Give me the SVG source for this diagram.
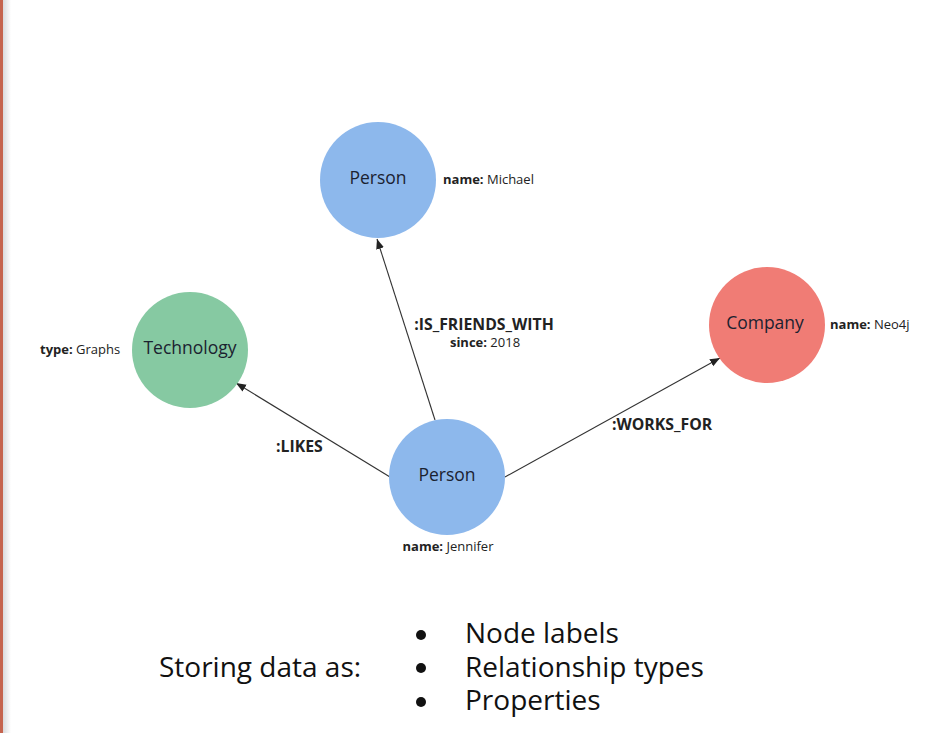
<svg xmlns="http://www.w3.org/2000/svg" width="928" height="733" viewBox="0 0 928 733">
<defs>
<marker id="arr" viewBox="0 0 10 10" refX="10" refY="5" markerWidth="10" markerHeight="10" markerUnits="userSpaceOnUse" orient="auto">
<path d="M0,1 L10,5 L0,9 z" fill="#222"/>
</marker>
<linearGradient id="edge" x1="0" x2="1" y1="0" y2="0">
<stop offset="0" stop-color="#d9dadd"/>
<stop offset="1" stop-color="#ffffff"/>
</linearGradient>
</defs>
<style>
.lbl{font-family:"Open Sans","Liberation Sans",sans-serif;font-size:17.5px;fill:#1b2230;text-anchor:middle}
.prop{font-family:"Open Sans","Liberation Sans",sans-serif;font-size:13px;fill:#222}
.prop tspan.k{font-weight:bold}
.rel{font-family:"Open Sans","Liberation Sans",sans-serif;font-size:15.8px;font-weight:bold;fill:#222}
.edge{stroke:#333;stroke-width:1.1;fill:none;marker-end:url(#arr)}
.big{font-family:"Open Sans","Liberation Sans",sans-serif;font-size:28px;fill:#111}
.person{fill:#8db8ec}
</style>
<rect width="928" height="733" fill="#fff"/>
<rect x="3" y="0" width="8" height="733" fill="url(#edge)"/>
<rect x="0" y="0" width="3" height="733" fill="#c5644f"/>
<g id="connectors">
<line class="edge" x1="435" y1="420" x2="377" y2="239"/>
<line class="edge" x1="390" y1="477" x2="236" y2="383"/>
<line class="edge" x1="505" y1="477" x2="720" y2="358"/>
<text class="rel" x="484" y="330" text-anchor="middle">:IS_FRIENDS_WITH</text>
<text class="prop" x="485" y="347" text-anchor="middle"><tspan class="k">since:</tspan> 2018</text>
<text class="rel" x="276" y="452">:LIKES</text>
<text class="rel" x="612" y="430">:WORKS_FOR</text>
</g>
<g id="michael">
<circle class="person" cx="378" cy="180" r="58"/>
<text class="lbl" x="378" y="184">Person</text>
<text class="prop" x="443" y="184"><tspan class="k">name:</tspan> Michael</text>
</g>
<g id="technology">
<circle cx="190" cy="350" r="58" fill="#86c9a2"/>
<text class="lbl" x="190" y="354">Technology</text>
<text class="prop" x="40" y="354"><tspan class="k">type:</tspan> Graphs</text>
</g>
<g id="company">
<circle cx="767" cy="325" r="58" fill="#f07c75"/>
<text class="lbl" x="765" y="329">Company</text>
<text class="prop" x="830" y="329"><tspan class="k">name:</tspan> Neo4j</text>
</g>
<g id="jennifer">
<circle class="person" cx="447" cy="477" r="58"/>
<text class="lbl" x="447" y="481">Person</text>
<text class="prop" x="448" y="551" text-anchor="middle"><tspan class="k">name:</tspan> Jennifer</text>
</g>
<g id="caption">
<text class="big" x="159" y="677">Storing data as:</text>
<circle cx="421" cy="635" r="5" fill="#111"/>
<circle cx="421" cy="668" r="5" fill="#111"/>
<circle cx="421" cy="702" r="5" fill="#111"/>
<text class="big" x="465" y="643">Node labels</text>
<text class="big" x="465" y="677">Relationship types</text>
<text class="big" x="465" y="710">Properties</text>
</g>
</svg>
